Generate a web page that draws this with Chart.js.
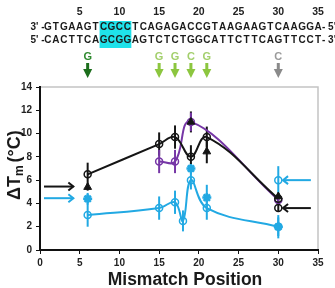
<!DOCTYPE html>
<html><head><meta charset="utf-8">
<script src="https://cdn.jsdelivr.net/npm/chart.js@4.4.1/dist/chart.umd.min.js"></script>
<style>html,body{margin:0;padding:0;background:#fff}canvas{display:block}</style>
</head><body>
<canvas id="c" width="335" height="288"></canvas>
<script>
// ---- data ----
const positionTicks = [5,10,15,20,25,30,35];
const strandTop = "GTGAAGTCGCCTCAGAGACCGTAAGAAGTCAAGGA";
const strandBottom = "CACTTCAGCGGAGTCTCTGGCATTCTTCAGTTCCT";
const highlightRange = [8, 11];
const mismatchPos = [6, 15, 17, 19, 21, 30];
const mismatchBase = ['G', 'G', 'G', 'C', 'G', 'C'];
const mismatchKind = ['dark', 'light', 'light', 'light', 'light', 'gray'];

const blackX = [6, 15, 17, 19, 21, 30];
const blackY = [6.5, 9.1, 9.7, 8.0, 9.7, 4.4];
const blackErr = [1.0, 1.0, 1.0, 1.0, 0.9, 0.4];

const purpleX = [15, 17, 19, 30];
const purpleY = [7.6, 7.6, 11.0, 4.3];
const purpleErr = [1.0, 1.0, 0.8, 0.3];

const cyanX = [6, 15, 17, 18, 19, 21, 30];
const cyanY = [3.0, 3.6, 4.1, 2.5, 6.0, 3.6, 2.0];
const cyanErr = [1.0, 1.0, 1.0, 0.9, 0.8, 1.0, 1.0];

const triX = [6, 19, 21, 30];
const triY = [5.4, 11.0, 8.45, 4.6];
const triErr = [0.3, 0.9, 1.0, 0.3];

const starX = [6, 19, 21, 30];
const starY = [4.4, 7.0, 4.5, 2.0];
const starErr = [0.5, 0.5, 1.1, 0.8];

const blackRefX = [30], blackRefY = [3.6], blackRefErr = [0.3];
const cyanRefX = [30], cyanRefY = [6.0], cyanRefErr = [1.2];

const leftArrowY = [5.45, 4.45];
const leftArrowColor = ['black', 'cyan'];
const rightArrowY = [6.0, 3.6];
const rightArrowColor = ['cyan', 'black'];

// ---- styles ----
const COL = {black: '#151515', purple: '#7636a6', cyan: '#22a9e3'};
const MIS = {
  dark: {txt: '#2f8a2f', arr: '#1c6e1c'},
  light: {txt: '#a3cf6c', arr: '#8cc63f'},
  gray: {txt: '#9a9a9a', arr: '#8a8a8a'}
};
const FONT = "'Liberation Sans', Arial, sans-serif";
const mk = (xs, ys) => xs.map((x, i) => ({x: x, y: ys[i]}));
const clear = 'rgba(255,255,255,0)';

const datasets = [
  {data: mk(triX, triY), err: triErr, borderColor: COL.black, backgroundColor: COL.black,
   pointStyle: 'triangle', pointRadius: 4.5, pointBorderWidth: 1, showLine: false},
  {data: mk(starX, starY), err: starErr, borderColor: COL.cyan, backgroundColor: COL.cyan,
   pointStyle: 'star', pointRadius: 4.5, pointBorderWidth: 2.5, showLine: false},
  {data: mk(blackRefX, blackRefY), err: blackRefErr, borderColor: COL.black, backgroundColor: clear,
   pointStyle: 'circle', pointRadius: 3.5, pointBorderWidth: 1.5, showLine: false},
  {data: mk(cyanRefX, cyanRefY), err: cyanRefErr, borderColor: COL.cyan, backgroundColor: clear,
   pointStyle: 'circle', pointRadius: 3.5, pointBorderWidth: 1.5, showLine: false},
  {data: mk(blackX, blackY), err: blackErr, borderColor: COL.black, backgroundColor: clear,
   pointStyle: 'circle', pointRadius: 3.5, pointBorderWidth: 1.5, showLine: true, borderWidth: 2, tension: 0.4},
  {data: mk(purpleX, purpleY), err: purpleErr, borderColor: COL.purple, backgroundColor: clear,
   pointStyle: 'circle', pointRadius: 3.5, pointBorderWidth: 1.5, showLine: true, borderWidth: 2, tension: 0.4},
  {data: mk(cyanX, cyanY), err: cyanErr, borderColor: COL.cyan, backgroundColor: clear,
   pointStyle: 'circle', pointRadius: 3.5, pointBorderWidth: 1.5, showLine: true, borderWidth: 2, tension: 0.4}
];

const deco = {
  id: 'deco',
  beforeDraw(chart) {
    const {ctx, chartArea: a} = chart;
    ctx.save();
    ctx.strokeStyle = '#c4c4c4';
    ctx.lineWidth = 1.5;
    ctx.beginPath();
    ctx.moveTo(a.left, a.top); ctx.lineTo(a.right, a.top); ctx.lineTo(a.right, a.bottom);
    ctx.stroke();
    ctx.restore();
  },
  beforeDatasetsDraw(chart) {
    const {ctx} = chart;
    const xs = chart.scales.x, ys = chart.scales.y;
    ctx.save();
    ctx.lineWidth = 2;
    chart.data.datasets.forEach(ds => {
      if (!ds.err) return;
      ctx.strokeStyle = ds.borderColor;
      ds.data.forEach((p, i) => {
        const e = ds.err[i];
        const px = xs.getPixelForValue(p.x);
        ctx.beginPath();
        ctx.moveTo(px, ys.getPixelForValue(p.y + e));
        ctx.lineTo(px, ys.getPixelForValue(p.y - e));
        ctx.stroke();
      });
    });
    ctx.restore();
  },
  afterDraw(chart) {
    const {ctx, chartArea: a} = chart;
    const xs = chart.scales.x, ys = chart.scales.y;
    const X = v => xs.getPixelForValue(v);
    const Y = v => ys.getPixelForValue(v);
    ctx.save();
    // highlight box
    ctx.fillStyle = '#1fe2ea';
    ctx.fillRect(X(highlightRange[0] - 0.5), 21, X(highlightRange[1] + 0.5) - X(highlightRange[0] - 0.5), 27);
    // top position numbers
    ctx.fillStyle = '#222';
    ctx.font = 'bold 10.5px ' + FONT;
    ctx.textAlign = 'center'; ctx.textBaseline = 'middle';
    positionTicks.forEach(t => ctx.fillText(String(t), X(t), 12));
    // strands
    ctx.font = 'bold 10px ' + FONT;
    ctx.fillStyle = '#1a1a1a';
    for (let i = 0; i < strandTop.length; i++) {
      ctx.fillText(strandTop[i], X(i + 1), 27);
      ctx.fillText(strandBottom[i], X(i + 1), 40.5);
    }
    ctx.textAlign = 'right';
    ctx.fillText("3' -", X(0.5) + 0.5, 27);
    ctx.fillText("5' -", X(0.5) + 0.5, 40.5);
    ctx.textAlign = 'left';
    ctx.fillText("- 5'", X(35.5), 27);
    ctx.fillText("- 3'", X(35.5), 40.5);
    // mismatch letters & arrows
    ctx.textAlign = 'center';
    ctx.font = 'bold 11px ' + FONT;
    mismatchPos.forEach((p, i) => {
      const c = MIS[mismatchKind[i]];
      const px = X(p);
      ctx.fillStyle = c.txt;
      ctx.fillText(mismatchBase[i], px, 57);
      ctx.fillStyle = c.arr;
      ctx.fillRect(px - 1.5, 63, 3, 8);
      ctx.beginPath();
      ctx.moveTo(px - 4.5, 69); ctx.lineTo(px + 4.5, 69); ctx.lineTo(px, 78); ctx.closePath();
      ctx.fill();
    });
    // data arrows
    const arrow = (x1, x2, y, color) => {
      ctx.strokeStyle = color; ctx.lineWidth = 2;
      ctx.beginPath(); ctx.moveTo(x1, y); ctx.lineTo(x2, y); ctx.stroke();
      const d = x2 > x1 ? -1 : 1;
      ctx.beginPath();
      ctx.moveTo(x2 + d * 5, y - 4); ctx.lineTo(x2, y); ctx.lineTo(x2 + d * 5, y + 4);
      ctx.stroke();
    };
    leftArrowY.forEach((v, i) => arrow(X(0.5), X(4.2), Y(v), COL[leftArrowColor[i]]));
    rightArrowY.forEach((v, i) => arrow(X(34.1), X(30.6), Y(v), COL[rightArrowColor[i]]));
    // axis titles
    ctx.fillStyle = '#1a1a1a';
    ctx.textAlign = 'center'; ctx.textBaseline = 'middle';
    ctx.font = 'bold 17.5px ' + FONT;
    ctx.fillText('Mismatch Position', 185, 280.5);
    ctx.translate(15, 200);
    ctx.rotate(-Math.PI / 2);
    ctx.textAlign = 'left'; ctx.textBaseline = 'middle';
    ctx.font = 'bold 18px ' + FONT;
    ctx.fillText('\u0394T', 0, 0);
    let w = ctx.measureText('\u0394T').width;
    ctx.font = 'bold 12px ' + FONT;
    ctx.fillText('m', w, 5);
    w += ctx.measureText('m').width + 3;
    ctx.font = 'bold 18px ' + FONT;
    ctx.fillText('(\u00B0C)', w, 0);
    ctx.restore();
  }
};

new Chart(document.getElementById('c'), {
  type: 'scatter',
  data: {datasets: datasets},
  options: {
    responsive: false,
    animation: false,
    devicePixelRatio: 1,
    layout: {padding: {top: 87, right: 17, left: 0, bottom: 0}},
    plugins: {legend: {display: false}, tooltip: {enabled: false}},
    scales: {
      x: {
        type: 'linear', min: 0, max: 35,
        ticks: {stepSize: 5, padding: 3, color: '#222', font: {family: FONT, size: 10, weight: 'bold'}},
        grid: {display: true, drawOnChartArea: false, drawTicks: true, tickLength: 4, color: '#111'},
        border: {display: true, color: '#111', width: 2},
        afterFit: s => { s.height = 38; }
      },
      y: {
        type: 'linear', min: 0, max: 14,
        ticks: {stepSize: 2, padding: 4, color: '#222', font: {family: FONT, size: 10, weight: 'bold'}},
        grid: {display: true, drawOnChartArea: false, drawTicks: true, tickLength: 4, color: '#111'},
        border: {display: true, color: '#111', width: 2},
        afterFit: s => { s.width = 40; }
      }
    }
  },
  plugins: [deco]
});
</script>
</body></html>
